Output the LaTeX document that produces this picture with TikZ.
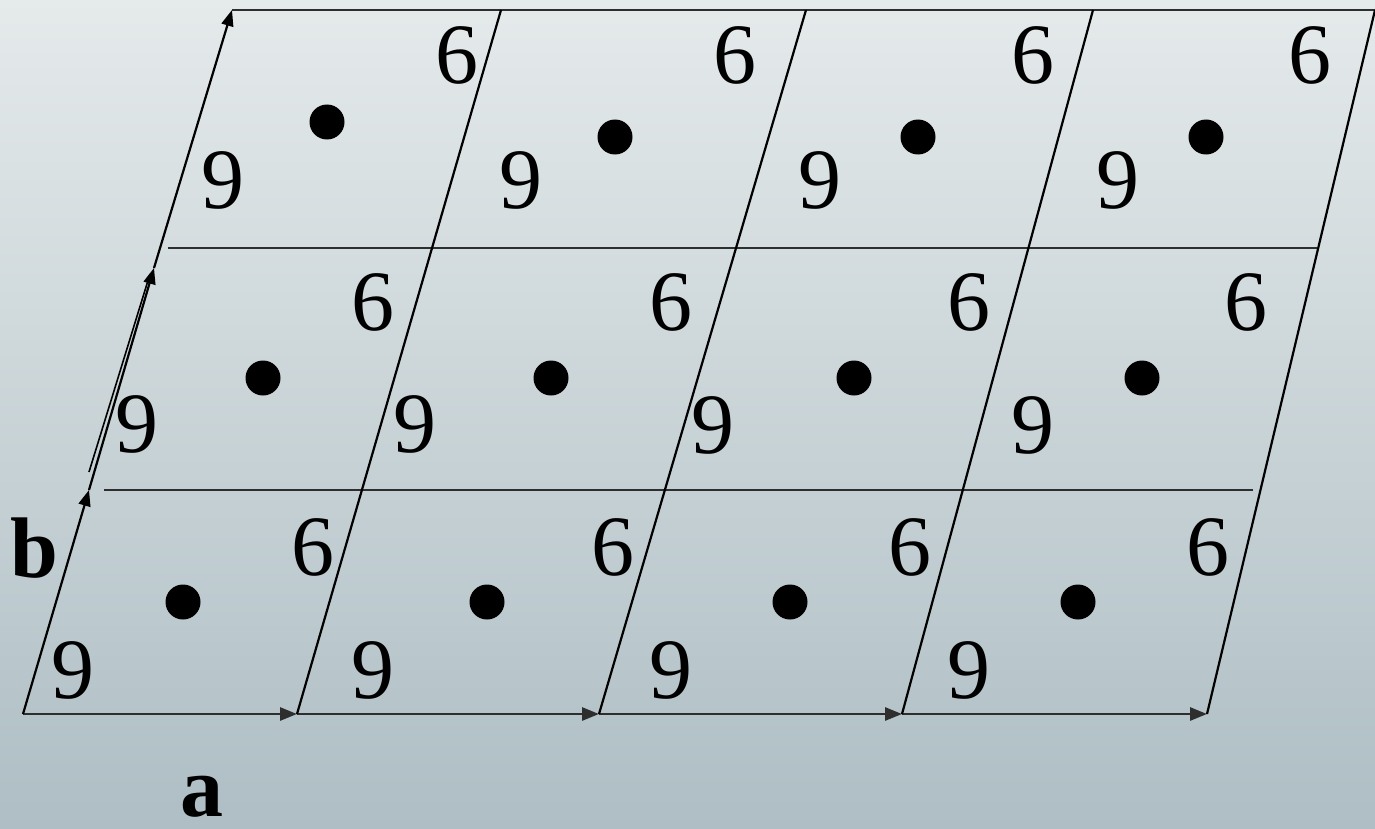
\documentclass[tikz,border=0pt]{standalone}
\usepackage{fontspec}
\setmainfont{Liberation Serif}
\usetikzlibrary{arrows.meta}
\begin{document}
\begin{tikzpicture}[x=0.5pt,y=-0.5pt,
  num/.style={inner sep=0pt, font=\fontsize{43}{43}\selectfont},
  lab/.style={inner sep=0pt, font=\fontsize{43}{43}\selectfont\bfseries},
  dot/.style={circle, fill=black, inner sep=0pt, minimum size=17.5pt},
  edge/.style={line width=1.1pt, black},
  thin edge/.style={line width=0.8pt, black},
  hline/.style={line width=1.4pt, black!82},
  arr/.style={edge, -{Triangle[length=8pt,width=6pt]}},
  harr/.style={hline, -{Triangle[length=8.5pt,width=6.5pt]}}]
\shade[top color={rgb,255:red,229;green,234;blue,235}, bottom color={rgb,255:red,174;green,190;blue,196}] (0,0) rectangle (1375,829);
\useasboundingbox (0,0) rectangle (1375,829);
% vertices
\coordinate (B0) at (23,714);
\coordinate (B1) at (297,714);
\coordinate (B2) at (599,714);
\coordinate (B3) at (902,714);
\coordinate (B4) at (1207,714);
\coordinate (T0) at (232,10);
\coordinate (T1) at (501,10);
\coordinate (T2) at (806,10);
\coordinate (T3) at (1093,10);
\coordinate (T4) at (1375,10);
\coordinate (L1) at (89,490);
\coordinate (L2) at (154,268);
\coordinate (D1) at (89,472);
\coordinate (D2) at (150,274);
\coordinate (M1a) at (104,490);
\coordinate (M1b) at (1253,490);
\coordinate (M2a) at (168,248);
\coordinate (M2b) at (1317,248);
% horizontal lines
\draw[hline] (M1a) -- (M1b);
\draw[hline] (M2a) -- (M2b);
\draw[hline] (T0) -- (T4);
\draw[harr] (B0) -- (B1);
\draw[harr] (B1) -- (B2);
\draw[harr] (B2) -- (B3);
\draw[harr] (B3) -- (B4);
% slanted lines
\draw[arr] (B0) -- (L1);
\draw[arr] (L1) -- (L2);
\draw[arr] (L2) -- (T0);
\draw[thin edge] (D1) -- (D2);
\draw[edge] (B1) -- (T1);
\draw[edge] (B2) -- (T2);
\draw[edge] (B3) -- (T3);
\draw[edge] (B4) -- (T4);
% top row
\node[num] (s31) at (457,55) {6};
\node[num] (n31) at (223,180) {9};
\node[dot] (p31) at (327,122) {};
\node[num] (s32) at (735,55) {6};
\node[num] (n32) at (521,180) {9};
\node[dot] (p32) at (615,137) {};
\node[num] (s33) at (1033,55) {6};
\node[num] (n33) at (820,180) {9};
\node[dot] (p33) at (918,137) {};
\node[num] (s34) at (1310,55) {6};
\node[num] (n34) at (1118,180) {9};
\node[dot] (p34) at (1206,137) {};
% middle row
\node[num] (s21) at (373,302) {6};
\node[num] (n21) at (137,424) {9};
\node[dot] (p21) at (263,378) {};
\node[num] (s22) at (671,302) {6};
\node[num] (n22) at (415,424) {9};
\node[dot] (p22) at (551,378) {};
\node[num] (s23) at (969,302) {6};
\node[num] (n23) at (713,425) {9};
\node[dot] (p23) at (854,378) {};
\node[num] (s24) at (1246,302) {6};
\node[num] (n24) at (1033,425) {9};
\node[dot] (p24) at (1142,378) {};
% bottom row
\node[num] (s11) at (313,547) {6};
\node[num] (n11) at (73,670) {9};
\node[dot] (p11) at (183,602) {};
\node[num] (s12) at (613,547) {6};
\node[num] (n12) at (373,670) {9};
\node[dot] (p12) at (487,602) {};
\node[num] (s13) at (910,547) {6};
\node[num] (n13) at (671,670) {9};
\node[dot] (p13) at (790,602) {};
\node[num] (s14) at (1208,547) {6};
\node[num] (n14) at (969,670) {9};
\node[dot] (p14) at (1078,602) {};
% axis labels
\node[lab] (lb) at (34,548) {b};
\node[lab] (la) at (202,797) {a};
\end{tikzpicture}
\end{document}
